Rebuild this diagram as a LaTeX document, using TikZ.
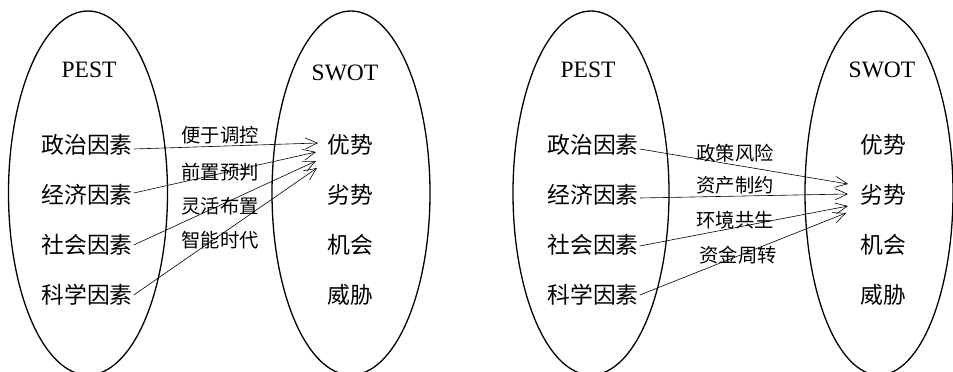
\documentclass[tikz,border=0pt]{standalone}
\usepackage{fontspec}
\setmainfont{Liberation Serif}
\newfontfamily\cjk{Noto Sans CJK SC}
\usetikzlibrary{arrows.meta}
\tikzset{
  big/.style={inner sep=0pt, font=\cjk\fontsize{22.8}{26}\selectfont},
  title/.style={inner sep=0pt, font=\fontsize{23.5}{27}\selectfont},
  lab/.style={inner sep=0pt, font=\cjk\fontsize{19.3}{22}\selectfont},
  oval/.style={line width=1.3pt},
  link/.style={line width=0.6pt, -{Straight Barb[length=12pt,width=11pt,line width=0.6pt]}},
}
\begin{document}
\begin{tikzpicture}[x=1pt,y=-1pt]
\useasboundingbox (0,0) rectangle (953,372);
\clip (0,0) rectangle (953,372);
% ellipses
\draw[oval] (88,193) ellipse [x radius=79.5, y radius=182];
\draw[oval] (351,193) ellipse [x radius=79, y radius=182];
\draw[oval] (591,193) ellipse [x radius=78, y radius=182];
\draw[oval] (879,193) ellipse [x radius=74, y radius=182];
% left panel
\node[title] (p1) at (89,70) {PEST};
\node[title] (s1) at (345,73) {SWOT};
\node[big] (a1) at (87,145) {政治因素};
\node[big] (a2) at (87,195) {经济因素};
\node[big] (a3) at (87,245) {社会因素};
\node[big] (a4) at (87,295) {科学因素};
\node[big] (b1) at (350,145) {优势};
\node[big] (b2) at (350,195) {劣势};
\node[big] (b3) at (350,245) {机会};
\node[big] (b4) at (350,295) {威胁};
\node[lab] (l1) at (220,135) {便于调控};
\node[lab] (l2) at (220,172) {前置预判};
\node[lab] (l3) at (220,206) {灵活布置};
\node[lab] (l4) at (220,240) {智能时代};
\coordinate (t1) at (318,143);
\coordinate (t2) at (316,152);
\coordinate (t3) at (316,161);
\coordinate (t4) at (317,168);
\draw[link] ([xshift=1pt,yshift=-4pt]a1.east) -- (t1);
\draw[link] ([xshift=1pt,yshift=2pt]a2.east) -- (t2);
\draw[link] ([xshift=1pt]a3.east) -- (t3);
\draw[link] ([xshift=1pt]a4.east) -- (t4);
% right panel
\node[title] (p2) at (588,70) {PEST};
\node[title] (s2) at (882,70) {SWOT};
\node[big] (c1) at (593,145) {政治因素};
\node[big] (c2) at (593,195) {经济因素};
\node[big] (c3) at (593,245) {社会因素};
\node[big] (c4) at (593,295) {科学因素};
\node[big] (d1) at (883,145) {优势};
\node[big] (d2) at (883,195) {劣势};
\node[big] (d3) at (883,245) {机会};
\node[big] (d4) at (883,295) {威胁};
\node[lab] (m1) at (735,153) {政策风险};
\node[lab] (m2) at (735,185) {资产制约};
\node[lab] (m3) at (735,220) {环境共生};
\node[lab] (m4) at (738,255) {资金周转};
\coordinate (u1) at (848,184);
\coordinate (u2) at (848,194);
\coordinate (u3) at (848,206);
\coordinate (u4) at (846,213);
\draw[link] ([xshift=1pt,yshift=-4pt]c1.east) -- (u1);
\draw[link] ([xshift=1pt,yshift=-3pt]c2.east) -- (u2);
\draw[link] ([xshift=1pt,yshift=-1pt]c3.east) -- (u3);
\draw[link] ([xshift=1pt]c4.east) -- (u4);
\end{tikzpicture}
\end{document}
